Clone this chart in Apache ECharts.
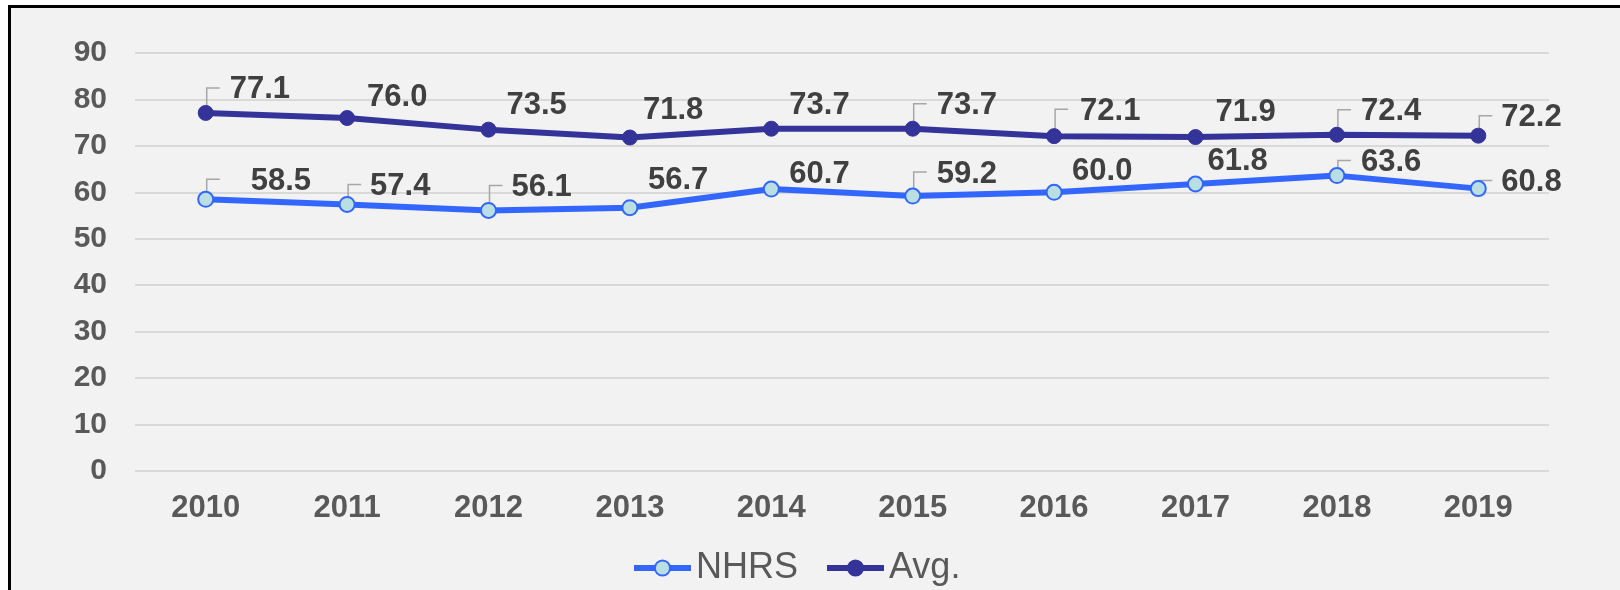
<!DOCTYPE html>
<html>
<head>
<meta charset="utf-8">
<script src="https://cdn.jsdelivr.net/npm/echarts@6/dist/echarts.min.js"></script>
<style>
  html, body { margin: 0; padding: 0; background: #ffffff; }
  #frame { position: absolute; left: 8px; top: 5px; width: 1609px; height: 582px;
           border-left: 3px solid #000; border-top: 3px solid #000; background: #f2f2f2; }
  #chart { position: absolute; left: 0; top: 0; width: 1620px; height: 590px; }
</style>
</head>
<body>
<div id="frame"></div>
<div id="chart"></div>
<script>
// ---- data ----
const years = ['2010','2011','2012','2013','2014','2015','2016','2017','2018','2019'];
const nhrsValues = [58.5, 57.4, 56.1, 56.7, 60.7, 59.2, 60.0, 61.8, 63.6, 60.8];
const avgValues  = [77.1, 76.0, 73.5, 71.8, 73.7, 73.7, 72.1, 71.9, 72.4, 72.2];
const seriesNames = ['NHRS', 'Avg.'];
const yTicks = { min: 0, max: 90, interval: 10 };

// ---- label placement (style only) ----
const avgLabelDx  = [24, 20, 18, 13, 18, 24, 26, 20, 24, 23];
const avgLabelDy  = [-23, -21, -24, -27, -23, -23, -25, -25, -23, -18];
const nhrsLabelDx = [45, 23, 23, 18, 18, 24, 18, 12, 24, 23];
const nhrsLabelDy = [-18, -18, -23, -27, -15, -22, -21, -23, -13, -6];
const avgLeader   = [1, 0, 0, 0, 0, 1, 1, 0, 1, 1];
const nhrsLeader  = [1, 1, 1, 0, 0, 1, 0, 0, 1, 1];

const FONT = "'Liberation Sans', Arial, sans-serif";
const NHRS_COLOR = '#3366ff';
const AVG_COLOR = '#333399';

function buildData(values, dx, dy) {
  return values.map((v, i) => ({
    value: v,
    label: { offset: [dx[i], dy[i]] }
  }));
}

function leaderSeries(name, values, dy, flags) {
  return {
    type: 'custom',
    name: name,
    coordinateSystem: 'cartesian2d',
    silent: true,
    z: 1,
    data: values.map((v, i) => [i, v]),
    encode: { x: 0, y: 1 },
    renderItem: function (params, api) {
      const i = api.value(0);
      if (!flags[i]) return null;
      const p = api.coord([i, api.value(1)]);
      const ty = p[1] + dy[i] - 2;
      return {
        type: 'polyline',
        shape: { points: [[p[0] + 1, p[1]], [p[0] + 1, ty], [p[0] + 14, ty]] },
        style: { stroke: '#a6a6a6', lineWidth: 1.5, fill: null }
      };
    }
  };
}

const labelCommon = {
  show: true,
  position: 'inside',
  align: 'left',
  verticalAlign: 'middle',
  fontFamily: FONT,
  fontSize: 31,
  fontWeight: 'bold',
  color: '#404040',
  formatter: p => p.value.toFixed(1)
};

const chart = echarts.init(document.getElementById('chart'), null, { renderer: 'canvas' });
chart.setOption({
  backgroundColor: 'transparent',
  animation: false,
  grid: { left: 135, right: 71, top: 53, bottom: 119, containLabel: false, outerBoundsMode: 'none' },
  legend: {
    data: seriesNames,
    left: 626,
    top: 545,
    itemWidth: 57,
    itemHeight: 19,
    itemGap: 26,
    lineStyle: { width: 6 },
    textStyle: { fontFamily: FONT, fontSize: 36, color: '#595959' }
  },
  xAxis: {
    type: 'category',
    data: years,
    boundaryGap: true,
    axisLine: { show: false },
    axisTick: { show: false },
    axisLabel: { fontFamily: FONT, fontSize: 31, fontWeight: 'bold', color: '#595959', margin: 22 }
  },
  yAxis: {
    type: 'value',
    min: yTicks.min,
    max: yTicks.max,
    interval: yTicks.interval,
    axisLine: { show: false },
    axisTick: { show: false },
    axisLabel: { fontFamily: FONT, fontSize: 30, fontWeight: 'bold', color: '#595959', margin: 28 },
    splitLine: { lineStyle: { color: '#d9d9d9', width: 2 } }
  },
  series: [
    leaderSeries('nhrs-leader', nhrsValues, nhrsLabelDy, nhrsLeader),
    leaderSeries('avg-leader', avgValues, avgLabelDy, avgLeader),
    {
      name: seriesNames[0],
      type: 'line',
      z: 3,
      data: buildData(nhrsValues, nhrsLabelDx, nhrsLabelDy),
      symbol: 'circle',
      symbolSize: 15,
      lineStyle: { color: NHRS_COLOR, width: 6 },
      itemStyle: { color: '#b9dfe3', borderColor: NHRS_COLOR, borderWidth: 2 },
      label: labelCommon
    },
    {
      name: seriesNames[1],
      type: 'line',
      z: 3,
      data: buildData(avgValues, avgLabelDx, avgLabelDy),
      symbol: 'circle',
      symbolSize: 15,
      lineStyle: { color: AVG_COLOR, width: 6 },
      itemStyle: { color: AVG_COLOR, borderColor: AVG_COLOR, borderWidth: 1 },
      label: labelCommon
    }
  ]
});
</script>
</body>
</html>
